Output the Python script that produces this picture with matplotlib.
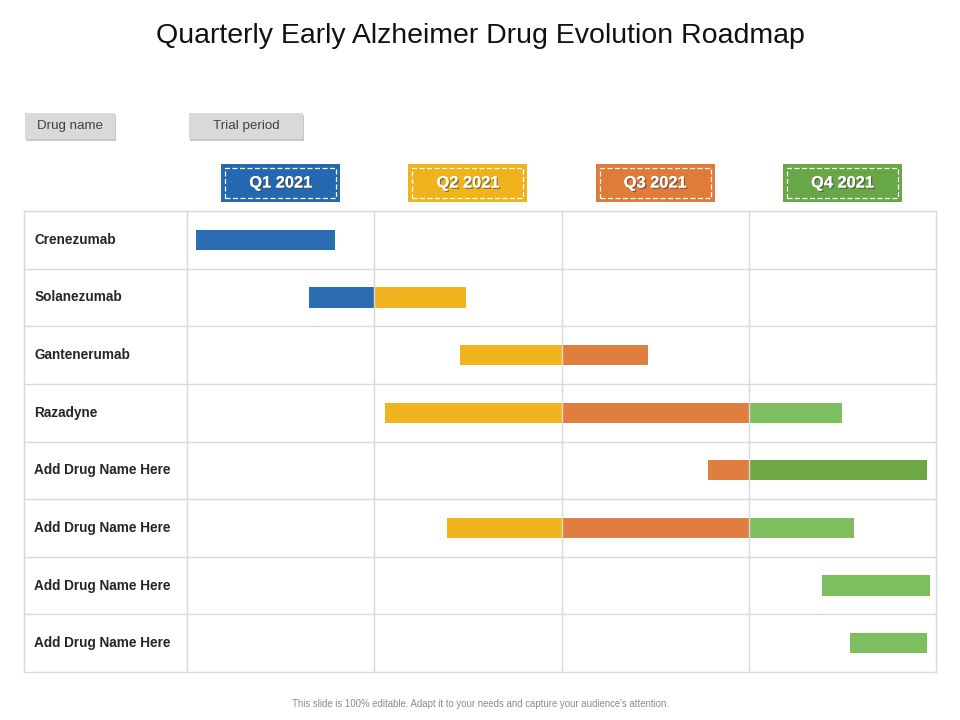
import matplotlib.pyplot as plt
from matplotlib.patches import Rectangle
import matplotlib.patheffects as pe

plt.rcParams['font.family'] = ['Liberation Sans Narrow', 'Liberation Sans', 'DejaVu Sans']

# Dados
title = 'Quarterly Early Alzheimer Drug Evolution Roadmap'
quarters = ['Q1 2021', 'Q2 2021', 'Q3 2021', 'Q4 2021']
quarter_colors = ['#2468B2', '#F1B31C', '#E07B39', '#68A747']
drugs = ['Crenezumab', 'Solanezumab', 'Gantenerumab', 'Razadyne',
         'Add Drug Name Here', 'Add Drug Name Here', 'Add Drug Name Here', 'Add Drug Name Here']

# segmentos: linha, inicio, fim (em trimestres), cor
seg_row = [0, 1, 1, 2, 2, 3, 3, 3, 4, 4, 5, 5, 5, 6, 7]
seg_start = [0.05, 0.65, 1.0, 1.46, 2.0, 1.06, 2.0, 3.0, 2.78, 3.0, 1.39, 2.0, 3.0, 3.39, 3.54]
seg_end = [0.79, 1.0, 1.49, 2.0, 2.46, 2.0, 3.0, 3.5, 3.0, 3.95, 2.0, 3.0, 3.56, 3.97, 3.95]
seg_color = ['#2A6DB2', '#2A6DB2', '#F0B41E', '#F0B41E', '#DF7E3F', '#F0B41E', '#DF7E3F', '#7DBF5F',
             '#DF7E3F', '#6EA845', '#F0B41E', '#DF7E3F', '#7DBF5F', '#7DBF5F', '#7DBF5F']

legend_labels = ['Drug name', 'Trial period']
footer = "This slide is 100% editable. Adapt it to your needs and capture your audience's attention."

W, H = 960, 720
fig = plt.figure(figsize=(9.6, 7.2), dpi=100)


def fx(px):
    return px / W


def fy(py):
    return 1 - py / H


# Tabela principal
left, right, top, bottom = 24, 936, 211, 672
ax = fig.add_axes([fx(left), fy(bottom), fx(right - left), (bottom - top) / H])
label_w = (187 - left) / ((right - 187) / 4)
ax.set_xlim(-label_w, 4)
ax.set_ylim(len(drugs), 0)
ax.axis('off')

grid_c = '#D9D9D9'
for i in range(len(drugs) + 1):
    ax.plot([-label_w, 4], [i, i], color=grid_c, lw=1.0, clip_on=False)
for x in [-label_w, 0, 1, 2, 3, 4]:
    ax.plot([x, x], [0, len(drugs)], color=grid_c, lw=1.0, clip_on=False)

for i, d in enumerate(drugs):
    ax.text(-label_w + 0.055, i + 0.5, d, va='center', ha='left', fontsize=9.8,
            fontweight='bold', color='#262626')

bar_h = 0.35
for r, s, e, c in zip(seg_row, seg_start, seg_end, seg_color):
    ax.add_patch(Rectangle((s, r + 0.5 - bar_h / 2), e - s, bar_h, facecolor=c, edgecolor='none'))

# Cabeçalhos dos trimestres
col_w = (right - 187) / 4
for k, (q, c) in enumerate(zip(quarters, quarter_colors)):
    cx = 187 + col_w * (k + 0.5)
    bw, y0, y1 = 119, 164, 202
    fig.add_artist(Rectangle((fx(cx - bw / 2), fy(y1)), fx(bw), (y1 - y0) / H,
                             facecolor=c, edgecolor='none', transform=fig.transFigure))
    fig.add_artist(Rectangle((fx(cx - bw / 2 + 4), fy(y1 - 4)), fx(bw - 8), (y1 - y0 - 8) / H,
                             facecolor='none', edgecolor='white', lw=0.9, ls=(0, (4, 2)),
                             transform=fig.transFigure))
    fig.text(fx(cx), fy((y0 + y1) / 2), q, ha='center', va='center', color='white',
             fontsize=11.8, fontweight='bold',
             path_effects=[pe.withSimplePatchShadow(offset=(1, -1), shadow_rgbFace='#404040', alpha=0.6),
                           pe.Normal()])

# Legenda
for lab, (x0, x1) in zip(legend_labels, [(25, 115), (189, 303)]):
    y0, y1 = 113, 139
    fig.add_artist(Rectangle((fx(x0 + 1), fy(y1 + 2)), fx(x1 - x0), (y1 - y0) / H,
                             facecolor='#C8C8C8', edgecolor='none', transform=fig.transFigure))
    fig.add_artist(Rectangle((fx(x0), fy(y1)), fx(x1 - x0), (y1 - y0) / H,
                             facecolor='#D9D9D9', edgecolor='none', transform=fig.transFigure))
    fig.text(fx((x0 + x1) / 2), fy((y0 + y1) / 2), lab, ha='center', va='center',
             fontsize=9.6, color='#404040')

fig.text(0.5, fy(36), title, ha='center', va='center', fontsize=20.5, color='#111111')
fig.text(0.5, fy(704), footer, ha='center', va='center', fontsize=6.9, color='#8C8C8C')

fig.savefig('out.png', dpi=100)
